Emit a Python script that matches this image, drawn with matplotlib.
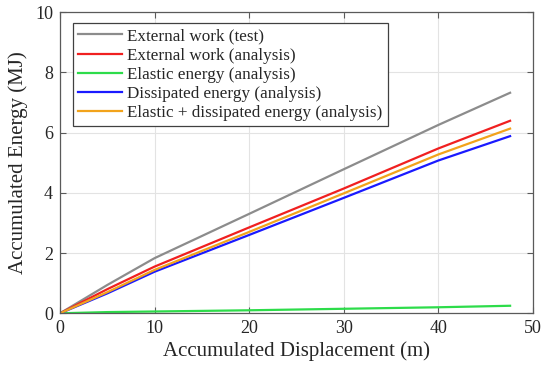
import matplotlib
matplotlib.use("Agg")
import matplotlib.pyplot as plt

plt.rcParams['font.family'] = ['Liberation Serif', 'DejaVu Serif']

# Accumulated displacement (m) at the read-off stations
displacement = [0, 5, 10, 20, 30, 40, 47.6]

# Accumulated energy (MJ) for each series
external_work_test = [0, 0.94, 1.83, 3.30, 4.78, 6.25, 7.32]
external_work_analysis = [0, 0.80, 1.55, 2.85, 4.14, 5.47, 6.39]
elastic_energy = [0, 0.04, 0.06, 0.10, 0.15, 0.20, 0.25]
dissipated_energy = [0, 0.66, 1.38, 2.60, 3.83, 5.07, 5.88]
elastic_plus_dissipated = [0, 0.70, 1.44, 2.70, 3.98, 5.27, 6.13]

labels = [
    "External work (test)",
    "External work (analysis)",
    "Elastic energy (analysis)",
    "Dissipated energy (analysis)",
    "Elastic + dissipated energy (analysis)",
]
colors = ["#8c8c8c", "#f02020", "#2ddc4a", "#1a1aff", "#f2a31b"]
series = [external_work_test, external_work_analysis, elastic_energy,
          dissipated_energy, elastic_plus_dissipated]

fig = plt.figure(figsize=(5.42, 3.72), dpi=100)
ax = fig.add_axes([0.1107, 0.1578, 0.8723, 0.8099])

for vals, lab, col in zip(series, labels, colors):
    ax.plot(displacement, vals, color=col, lw=1.6, label=lab)

ax.set_xlim(0, 50)
ax.set_ylim(0, 10)
ax.set_xticks([0, 10, 20, 30, 40, 50])
ax.set_yticks([0, 2, 4, 6, 8, 10])
ax.grid(True, color="#e3e3e3", lw=0.8)
ax.set_axisbelow(True)

axis_color = "#5a5a5a"
for sp in ax.spines.values():
    sp.set_color(axis_color)
    sp.set_linewidth(0.9)
ax.tick_params(direction="in", top=True, right=True, length=4,
               color=axis_color, labelsize=13, labelcolor="#262626", pad=5)

ax.set_xlabel("Accumulated Displacement (m)", fontsize=15, color="#262626", labelpad=3)
ax.set_ylabel("Accumulated Energy (MJ)", fontsize=15, color="#262626", labelpad=5)

leg = ax.legend(loc="upper left", bbox_to_anchor=(0.027, 0.9625), fontsize=12.3,
                handlelength=2.6, handletextpad=0.3, labelspacing=0.18,
                borderpad=0.3, fancybox=False, framealpha=1, edgecolor="#404040",
                borderaxespad=0)
leg.get_frame().set_linewidth(0.9)
for t in leg.get_texts():
    t.set_color("#262626")

fig.savefig("out.png", dpi=100)
